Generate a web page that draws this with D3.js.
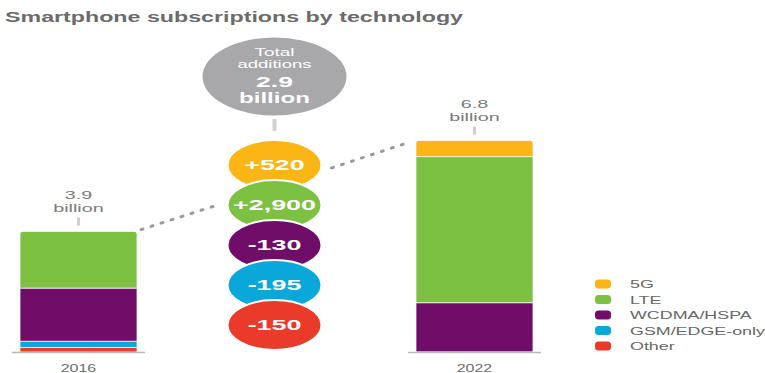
<!DOCTYPE html>
<html><head><meta charset="utf-8">
<script src="https://cdn.jsdelivr.net/npm/d3@7"></script>
<style>body{margin:0;background:#fff} svg{display:block}</style>
</head><body><svg id="chart" width="765" height="373"></svg>
<script>
// Smartphone subscriptions by technology, 2016 vs 2022
const years = ["2016", "2022"];
const technologies = ["5G", "LTE", "WCDMA/HSPA", "GSM/EDGE-only", "Other"];
// subscriptions in billions, in the same order as technologies
const values2016 = [0, 1.83, 1.72, 0.20, 0.15];
const values2022 = [0.52, 4.73, 1.59, 0.005, 0];
const totalLabels = ["3.9", "6.8"];
// net additions 2016–2022 in millions, same order as technologies
const additions = [520, 2900, -130, -195, -150];
const totalAdditions = "2.9";
const colors = ["#fbb616", "#7dc143", "#6f0d69", "#0aa8da", "#e93a2a"];

const svg = d3.select("#chart");
const font = "'Liberation Sans', Arial, Helvetica, sans-serif";
const color = d3.scaleOrdinal(technologies, colors);
const fmt = d3.formatLocale({decimal: ".", thousands: ",", grouping: [3], currency: ["$", ""], minus: "-"}).format("+,");

// stretch text horizontally by factor k (wide typeface look)
function widen(sel, k) {
  sel.each(function () {
    const w = this.getComputedTextLength();
    d3.select(this).attr("textLength", w * k).attr("lengthAdjust", "spacingAndGlyphs");
  });
}

// columns: 2016 bar, additions bubbles, 2022 bar
const x = d3.scaleBand().domain(["2016", "change", "2022"]).range([20, 533]).paddingInner(0.409);
const bw = x.bandwidth();
const y = d3.scaleLinear().domain([0, 6.8]).range([352, 142]);

// title
svg.append("text").attr("x", 5).attr("y", 22)
  .attr("font-family", font).attr("font-weight", "bold").attr("font-size", 14)
  .attr("fill", "#6b6b6b")
  .attr("textLength", 458).attr("lengthAdjust", "spacingAndGlyphs")
  .text("Smartphone subscriptions by technology");

// stacked bars
const rows = years.map((yr, i) => {
  const vals = i === 0 ? values2016 : values2022;
  const r = {year: yr, label: totalLabels[i]};
  technologies.forEach((t, j) => r[t] = vals[j]);
  return r;
});
const stackKeys = technologies.slice().reverse(); // bottom: Other ... top: 5G
const series = d3.stack().keys(stackKeys)(rows);

const defs = svg.append("defs");
rows.forEach((r, i) => {
  const top = y(d3.sum(technologies, t => r[t]));
  defs.append("clipPath").attr("id", "clip" + i)
    .append("rect").attr("x", x(r.year)).attr("y", top)
    .attr("width", bw).attr("height", y(0) - top + 10).attr("rx", 4);
});

series.forEach(s => {
  svg.append("g").attr("fill", color(s.key))
    .selectAll("rect").data(s).join("rect")
    .attr("clip-path", (d, i) => `url(#clip${i})`)
    .attr("x", d => x(d.data.year))
    .attr("y", d => y(d[1]))
    .attr("width", bw)
    .attr("height", d => Math.max(0, y(d[0]) - y(d[1])))
    .attr("stroke", "#f4f4f4").attr("stroke-width", 0.8);
});

// baselines, year labels, totals
rows.forEach(r => {
  const x0 = x(r.year), cx = x0 + bw / 2;
  const top = y(d3.sum(technologies, t => r[t]));
  svg.append("line").attr("x1", x0 - 8).attr("x2", x0 + bw + 8)
    .attr("y1", y(0) + 0.5).attr("y2", y(0) + 0.5)
    .attr("stroke", "#b9b9b9").attr("stroke-width", 1.5);
  svg.append("text").attr("x", cx).attr("y", 372).attr("text-anchor", "middle")
    .attr("font-family", font).attr("font-size", 11).attr("fill", "#6d6d6d")
    .text(r.year).call(widen, 1.45);
  svg.append("rect").attr("x", cx - 1.5).attr("y", top - 14).attr("width", 3).attr("height", 8)
    .attr("fill", "#cfcfcf");
  svg.append("text").attr("x", cx).attr("y", top - 33).attr("text-anchor", "middle")
    .attr("font-family", font).attr("font-size", 11).attr("fill", "#7a7a7a")
    .text(r.label).call(widen, 1.8);
  svg.append("text").attr("x", cx).attr("y", top - 20).attr("text-anchor", "middle")
    .attr("font-family", font).attr("font-size", 11).attr("fill", "#7a7a7a")
    .text("billion").call(widen, 1.8);
});

// additions bubbles
const bx = x("change") + bw / 2 - 2;
const by = d3.scalePoint().domain(technologies).range([165, 325]);
const rx = 47, ry = 25;

// total additions bubble
svg.append("ellipse").attr("cx", bx).attr("cy", 76.5).attr("rx", 72).attr("ry", 39).attr("fill", "#a8a8aa");
svg.append("rect").attr("x", bx - 2).attr("y", 119).attr("width", 4).attr("height", 12).attr("fill", "#d2d2d2");
[["Total", 55.5, 10.5, "normal", 40], ["additions", 67.5, 10.5, "normal", 74],
 [totalAdditions, 87, 15, "bold", 37], ["billion", 103, 15, "bold", 71]].forEach(([t, ty, fs, fw, w]) => {
  svg.append("text").attr("x", bx).attr("y", ty).attr("text-anchor", "middle")
    .attr("font-family", font).attr("font-size", fs).attr("font-weight", fw).attr("fill", "#fff")
    .attr("textLength", w).attr("lengthAdjust", "spacingAndGlyphs")
    .text(t);
});

// dotted connectors from bar tops to the bubbles
const dotted = (pts) => svg.append("path").attr("d", d3.line()(pts))
  .attr("fill", "none").attr("stroke", "#9a9a9a").attr("stroke-width", 3)
  .attr("stroke-linecap", "round").attr("stroke-dasharray", "2 8.5");
dotted([[x("2016") + bw + 4, y(3.9) - 2], [bx - rx - 10, by("LTE")]]);
dotted([[bx + rx + 10, by("5G") + 3], [x("2022") - 11, y(6.845) + 3]]);

const bubbles = svg.append("g").selectAll("g").data(technologies).join("g")
  .attr("transform", t => `translate(${bx},${by(t)})`);
bubbles.append("ellipse").attr("rx", rx).attr("ry", ry)
  .attr("fill", t => color(t)).attr("stroke", "#fff").attr("stroke-width", 2);
bubbles.append("text").attr("y", 5).attr("text-anchor", "middle")
  .attr("font-family", font).attr("font-size", 14.5).attr("font-weight", "bold").attr("fill", "#fff")
  .text((t, i) => fmt(additions[i])).call(widen, 1.85);

// legend
const ly = d3.scalePoint().domain(technologies).range([284, 346]);
const legend = svg.append("g").selectAll("g").data(technologies).join("g")
  .attr("transform", t => `translate(595,${ly(t)})`);
legend.append("rect").attr("x", 0).attr("y", -4.5).attr("width", 16).attr("height", 9).attr("rx", 3.5)
  .attr("fill", t => color(t));
legend.append("text").attr("x", 35).attr("y", 4).attr("font-family", font).attr("font-size", 10.5)
  .attr("fill", "#676767").text(t => t).call(widen, 1.7);
</script>
</body></html>
